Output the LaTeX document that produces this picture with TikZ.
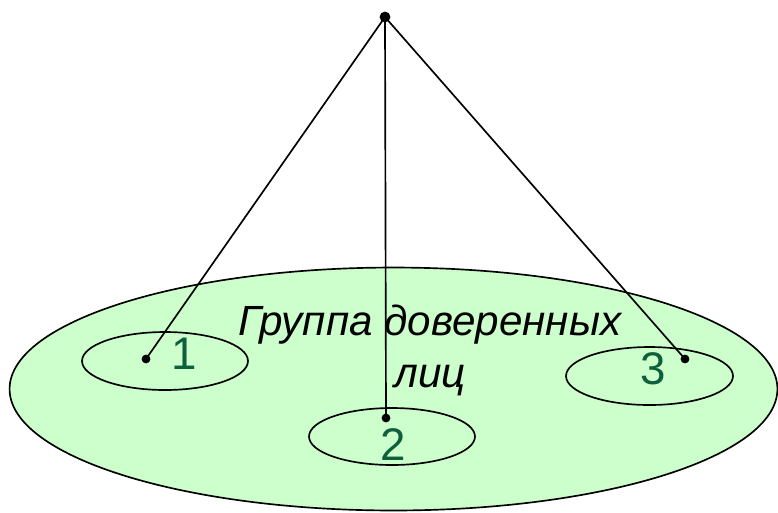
\documentclass[tikz,border=0pt]{standalone}
\usepackage{fontspec}
\setmainfont{Liberation Sans}
\usepackage{xcolor}
\usetikzlibrary{shapes.geometric, positioning}

\definecolor{groupfill}{HTML}{CCFFCC}
\definecolor{numgreen}{HTML}{0E5F3B}

\begin{document}
\begin{tikzpicture}[x=0.02cm, y=-0.02cm, line width=0.95pt]
    \useasboundingbox (0,0) rectangle (778,512);

    % Group of trusted persons
    \node (group) [draw, ellipse, fill=groupfill, minimum width=15.36cm, minimum height=4.86cm, inner sep=0pt] at (393.5,389) {};
    \node (grouplabel) [align=center, font=\fontsize{24}{29.5}\selectfont\itshape] at (430,350) {Группа доверенных\\лиц};

    % Members
    \node (m1) [draw, ellipse, minimum width=3.32cm, minimum height=1.16cm, inner sep=0pt] at (165,361) {};
    \node (m2) [draw, ellipse, minimum width=3.32cm, minimum height=1.14cm, inner sep=0pt] at (392,436.5) {};
    \node (m3) [draw, ellipse, minimum width=3.34cm, minimum height=1.16cm, inner sep=0pt] at (649.5,376) {};

    \node [text=numgreen, font=\fontsize{26}{27}\selectfont] at (184,354) {1};
    \node [text=numgreen, font=\fontsize{26}{27}\selectfont] at (393,445) {2};
    \node [text=numgreen, font=\fontsize{26}{27}\selectfont] at (653,369) {3};

    % Points
    \node (top) [draw, circle, fill=black, inner sep=0pt, minimum size=0.18cm] at (385,17) {};
    \node (d1) [draw, circle, fill=black, inner sep=0pt, minimum size=0.14cm] at (146,359) {};
    \node (d2) [draw, circle, fill=black, inner sep=0pt, minimum size=0.14cm] at (386,418) {};
    \node (d3) [draw, circle, fill=black, inner sep=0pt, minimum size=0.14cm] at (685,359) {};

    % Connections
    \draw (top.center) -- (d1.center);
    \draw (top.center) -- (d2.center);
    \draw (top.center) -- (d3.center);
\end{tikzpicture}
\end{document}
